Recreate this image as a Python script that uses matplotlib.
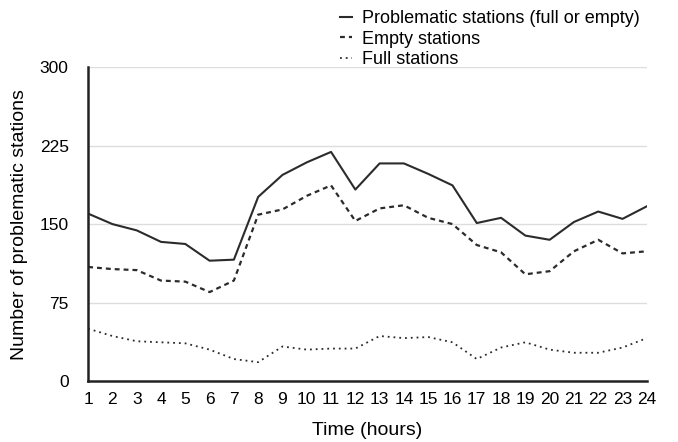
import numpy as np
import matplotlib.pyplot as plt

plt.rcParams['font.family'] = ['Liberation Sans', 'DejaVu Sans']

hours = list(range(1, 25))
problematic = [160, 150, 144, 133, 131, 115, 116, 176, 197, 209, 219, 183,
               208, 208, 198, 187, 151, 156, 139, 135, 152, 162, 155, 167]
empty = [109, 107, 106, 96, 95, 85, 96, 159, 164, 177, 187, 153,
         165, 168, 156, 150, 130, 123, 102, 105, 124, 135, 122, 124]
full = [50, 43, 38, 37, 36, 30, 21, 18, 33, 30, 31, 31,
        43, 41, 42, 37, 21, 32, 37, 30, 27, 27, 32, 41]
yticks = [0, 75, 150, 225, 300]

fig = plt.figure(figsize=(6.78, 4.42), dpi=100)
ax = fig.add_axes([0.13, 0.138, 0.824, 0.71])

line_col = '#2b2b2b'
ax.plot(hours, problematic, color=line_col, lw=1.5, ls='-',
        label='Problematic stations (full or empty)')
ax.plot(hours, empty, color=line_col, lw=1.6, ls=(0, (2.2, 1.8)),
        label='Empty stations')
ax.plot(hours, full, color=line_col, lw=1.3, ls=(0, (1, 2.2)),
        label='Full stations')

ax.set_xlim(1, 24)
ax.set_ylim(0, 300)
ax.set_xticks(hours)
ax.set_yticks(yticks)
ax.tick_params(axis='x', length=0, labelsize=12.5, pad=8)
ax.tick_params(axis='y', length=0, labelsize=12.5, pad=14)
for y in yticks[1:]:
    ax.axhline(y, color='#dddddd', lw=1, zorder=0)

for s in ['top', 'right']:
    ax.spines[s].set_visible(False)
ax.spines['left'].set_linewidth(1.8)
ax.spines['bottom'].set_linewidth(1.8)
ax.spines['left'].set_color('#222222')
ax.spines['bottom'].set_color('#222222')

ax.set_xlabel('Time (hours)', fontsize=14, labelpad=11)
ax.set_ylabel('Number of problematic stations', fontsize=14, labelpad=8)

fig.legend(loc='upper left', bbox_to_anchor=(0.501, 1 - 10 / 442), frameon=False,
           fontsize=13, handlelength=0.67, handletextpad=0.55, labelspacing=0.2,
           borderpad=0, borderaxespad=0)

fig.savefig('out.png', dpi=100)
